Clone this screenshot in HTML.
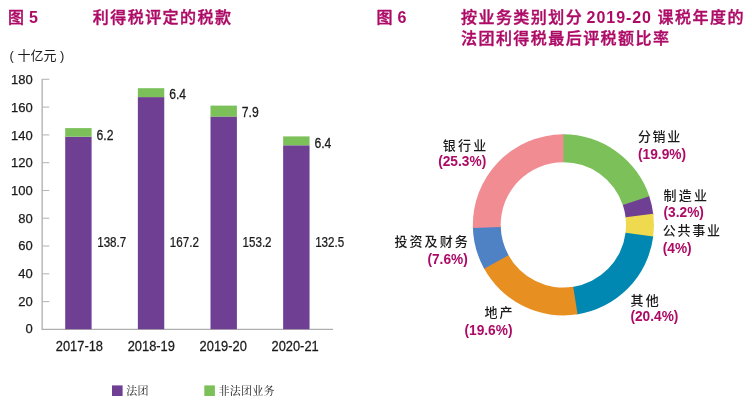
<!DOCTYPE html>
<html lang="zh-Hans"><head><meta charset="utf-8"><title>图 5 / 图 6</title>
<style>
html,body{margin:0;padding:0;background:#fff;}
body{width:752px;height:417px;overflow:hidden;}
svg{display:block;}
text{font-family:"Liberation Sans","Noto Sans CJK SC",sans-serif;}
.num{font-size:13px;fill:#1a1a1a;stroke:#1a1a1a;stroke-width:0.25px;}
.cat{font-size:14px;fill:#1a1a1a;stroke:#1a1a1a;stroke-width:0.25px;}
.title{font-weight:500;font-size:16px;fill:#ad0a66;letter-spacing:1.45px;stroke:#ad0a66;stroke-width:0.4px;}
.tl{font-weight:bold;font-size:16px;fill:#ad0a66;letter-spacing:0.8px;}
.lab{font-weight:500;font-size:13px;fill:#1a1a1a;letter-spacing:0.95px;}
.pct{font-weight:bold;font-size:14px;fill:#ad0a66;}
.leg{font-family:"Noto Serif CJK SC","Liberation Serif",serif;font-size:11px;fill:#1a1a1a;letter-spacing:0.25px;}
.unit{font-weight:400;font-size:13px;fill:#1a1a1a;}
</style></head><body>
<svg width="752" height="417" viewBox="0 0 752 417">
<rect width="752" height="417" fill="#fff"/>
<text class="title" x="8" y="23.3">图</text>
<text class="tl" x="29" y="23.3">5</text>
<text class="title" x="92.8" y="23.3">利得税评定的税款</text>
<text class="title" x="376.5" y="23.3">图</text>
<text class="tl" x="397.5" y="23.3">6</text>
<text class="title" x="461" y="23.3">按业务类别划分</text>
<text class="tl" x="586.6" y="23.3" style="letter-spacing:0.95px">2019-20</text>
<text class="title" x="657.6" y="23.3">课税年度的</text>
<text class="title" x="461" y="44">法团利得税最后评税额比率</text>
<text class="unit" x="9.5" y="60">( 十亿元 )</text>
<path d="M42.15 79 V329.4 H333" fill="none" stroke="#aeaeae" stroke-width="1.3"/>
<text class="num" x="32.8" y="333.3" text-anchor="end">0</text>
<path d="M42 301.6 H49.3" stroke="#b8b8b8" stroke-width="1.1"/>
<text class="num" x="32.8" y="305.6" text-anchor="end">20</text>
<path d="M42 273.8 H49.3" stroke="#b8b8b8" stroke-width="1.1"/>
<text class="num" x="32.8" y="277.9" text-anchor="end">40</text>
<path d="M42 246.0 H49.3" stroke="#b8b8b8" stroke-width="1.1"/>
<text class="num" x="32.8" y="250.2" text-anchor="end">60</text>
<path d="M42 218.2 H49.3" stroke="#b8b8b8" stroke-width="1.1"/>
<text class="num" x="32.8" y="222.5" text-anchor="end">80</text>
<path d="M42 190.5 H49.3" stroke="#b8b8b8" stroke-width="1.1"/>
<text class="num" x="32.8" y="194.9" text-anchor="end">100</text>
<path d="M42 162.7 H49.3" stroke="#b8b8b8" stroke-width="1.1"/>
<text class="num" x="32.8" y="167.2" text-anchor="end">120</text>
<path d="M42 134.9 H49.3" stroke="#b8b8b8" stroke-width="1.1"/>
<text class="num" x="32.8" y="139.5" text-anchor="end">140</text>
<path d="M42 107.1 H49.3" stroke="#b8b8b8" stroke-width="1.1"/>
<text class="num" x="32.8" y="111.8" text-anchor="end">160</text>
<path d="M42 79.3 H49.3" stroke="#b8b8b8" stroke-width="1.1"/>
<text class="num" x="32.8" y="84.1" text-anchor="end">180</text>
<rect x="65.20" y="136.7" width="26.4" height="192.5" fill="#6f3f94"/>
<rect x="65.20" y="128.1" width="26.4" height="8.6" fill="#7cc05a"/>
<text class="cat" transform="translate(96.5 140.0) scale(0.87 1)" text-anchor="start">6.2</text>
<text class="cat" transform="translate(97.2 247) scale(0.83 1)" text-anchor="start">138.7</text>
<text class="cat" transform="translate(79.4 350.6) scale(0.92 1)" text-anchor="middle">2017-18</text>
<rect x="137.85" y="97.1" width="26.4" height="232.1" fill="#6f3f94"/>
<rect x="137.85" y="88.2" width="26.4" height="8.9" fill="#7cc05a"/>
<text class="cat" transform="translate(169.15 98.6) scale(0.87 1)" text-anchor="start">6.4</text>
<text class="cat" transform="translate(169.85 247) scale(0.83 1)" text-anchor="start">167.2</text>
<text class="cat" transform="translate(151.3 350.6) scale(0.92 1)" text-anchor="middle">2018-19</text>
<rect x="210.50" y="116.5" width="26.4" height="212.7" fill="#6f3f94"/>
<rect x="210.50" y="105.6" width="26.4" height="11.0" fill="#7cc05a"/>
<text class="cat" transform="translate(241.8 117.0) scale(0.87 1)" text-anchor="start">7.9</text>
<text class="cat" transform="translate(242.5 247) scale(0.83 1)" text-anchor="start">153.2</text>
<text class="cat" transform="translate(223.2 350.6) scale(0.92 1)" text-anchor="middle">2019-20</text>
<rect x="283.15" y="145.3" width="26.4" height="183.9" fill="#6f3f94"/>
<rect x="283.15" y="136.4" width="26.4" height="8.9" fill="#7cc05a"/>
<text class="cat" transform="translate(314.45 148.1) scale(0.87 1)" text-anchor="start">6.4</text>
<text class="cat" transform="translate(315.15 247) scale(0.83 1)" text-anchor="start">132.5</text>
<text class="cat" transform="translate(295.1 350.6) scale(0.92 1)" text-anchor="middle">2020-21</text>
<rect x="112" y="385.4" width="10.6" height="10.6" fill="#6f3f94"/>
<text class="leg" x="126.3" y="395.2">法团</text>
<rect x="204.3" y="385.4" width="10.6" height="10.6" fill="#7cc05a"/>
<text class="leg" x="218.6" y="395.2">非法团业务</text>
<path d="M562.45 134.35 A90.55 90.55 0 0 1 649.57 197.07 L623.06 205.63 A62.7 62.7 0 0 0 562.74 162.20 Z" fill="#7cc05a"/>
<path d="M649.27 196.17 A90.55 90.55 0 0 1 653.39 214.81 L625.71 217.91 A62.7 62.7 0 0 0 622.86 205.00 Z" fill="#6f3f94"/>
<path d="M653.28 213.86 A90.55 90.55 0 0 1 653.09 237.35 L625.50 233.52 A62.7 62.7 0 0 0 625.63 217.26 Z" fill="#efd94e"/>
<path d="M653.22 236.41 A90.55 90.55 0 0 1 576.63 314.48 L572.56 286.93 A62.7 62.7 0 0 0 625.59 232.87 Z" fill="#0088b2"/>
<path d="M577.57 314.34 A90.55 90.55 0 0 1 483.67 267.83 L508.19 254.63 A62.7 62.7 0 0 0 573.21 286.83 Z" fill="#e88f22"/>
<path d="M484.13 268.66 A90.55 90.55 0 0 1 472.87 226.95 L500.72 226.32 A62.7 62.7 0 0 0 508.51 255.20 Z" fill="#4f81c5"/>
<path d="M472.90 227.90 A90.55 90.55 0 0 1 563.40 134.35 L563.40 162.20 A62.7 62.7 0 0 0 500.73 226.98 Z" fill="#f08c92"/>
<text class="lab" x="638" y="140.79999999999998" text-anchor="start" style="letter-spacing:1.6px">分销业</text>
<text class="pct" transform="translate(638 158.7) scale(0.98 1)" text-anchor="start">(19.9%)</text>
<text class="lab" x="663.5" y="200.0" text-anchor="start" style="letter-spacing:2.2px">制造业</text>
<text class="pct" transform="translate(663.5 217) scale(0.98 1)" text-anchor="start">(3.2%)</text>
<text class="lab" x="662.7" y="235.1" text-anchor="start" style="letter-spacing:1.8px">公共事业</text>
<text class="pct" transform="translate(662.7 252.8) scale(0.98 1)" text-anchor="start">(4%)</text>
<text class="lab" x="630.4" y="304.5" text-anchor="start" style="letter-spacing:2.4px">其他</text>
<text class="pct" transform="translate(630.4 320.9) scale(0.98 1)" text-anchor="start">(20.4%)</text>
<text class="lab" x="514.6" y="317.3" text-anchor="end" style="letter-spacing:2.1px">地产</text>
<text class="pct" transform="translate(512.5 335) scale(0.98 1)" text-anchor="end">(19.6%)</text>
<text class="lab" x="469.90000000000003" y="246.4" text-anchor="end" style="letter-spacing:2.1px">投资及财务</text>
<text class="pct" transform="translate(467.8 263.7) scale(0.98 1)" text-anchor="end">(7.6%)</text>
<text class="lab" x="488.4" y="149.6" text-anchor="end" style="letter-spacing:2.2px">银行业</text>
<text class="pct" transform="translate(486.2 165.7) scale(0.98 1)" text-anchor="end">(25.3%)</text>
</svg></body></html>
